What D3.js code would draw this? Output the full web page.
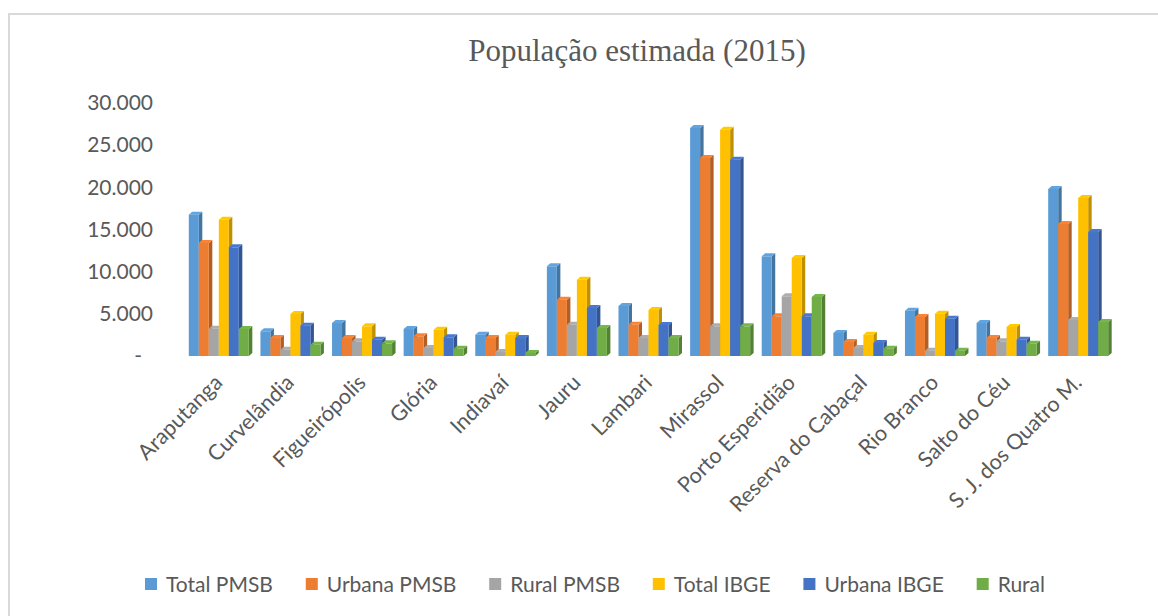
<!DOCTYPE html>
<html>
<head>
<meta charset="utf-8">
<script src="https://cdn.jsdelivr.net/npm/d3@7"></script>
<style>
  html, body { margin: 0; padding: 0; background: #fff; }
  svg { display: block; }
</style>
</head>
<body>
<svg id="chart" width="1158" height="616"></svg>
<script>
// Municipalities
const categories = ["Araputanga", "Curvelândia", "Figueirópolis", "Glória", "Indiavaí", "Jauru",
  "Lambari", "Mirassol", "Porto Esperidião", "Reserva do Cabaçal", "Rio Branco",
  "Salto do Céu", "S. J. dos Quatro M."];

// Series names (legend order)
const seriesNames = ["Total PMSB", "Urbana PMSB", "Rural PMSB", "Total IBGE", "Urbana IBGE", "Rural"];

// Population estimates, one array per series
const totalPMSB  = [16760, 2930, 3910, 3200, 2530, 10640, 5930, 27040, 11820, 2730, 5370, 3910, 19800];
const urbanaPMSB = [13400, 2130, 2130, 2340, 2130, 6680, 3710, 23480, 4710, 1660, 4630, 2130, 15650];
const ruralPMSB  = [3240, 750, 1740, 950, 470, 3710, 2130, 3520, 7080, 950, 630, 1740, 4270];
const totalIBGE  = [16170, 4980, 3520, 3120, 2530, 9050, 5460, 26840, 11620, 2530, 5020, 3440, 18740];
const urbanaIBGE = [12890, 3600, 1930, 2220, 2130, 5690, 3680, 23280, 4710, 1540, 4420, 1930, 14700];
const rural      = [3200, 1340, 1500, 870, 360, 3320, 2130, 3520, 7000, 870, 630, 1460, 4030];

// Y axis ticks
const yTicks = [0, 5000, 10000, 15000, 20000, 25000, 30000];

const seriesValues = [totalPMSB, urbanaPMSB, ruralPMSB, totalIBGE, urbanaIBGE, rural];
const colors = ["#5B9BD5", "#ED7D31", "#A5A5A5", "#FFC000", "#4472C4", "#70AD47"];

const svg = d3.select("#chart");
const textColor = "#595959";
const uiFont = "Lato, 'Open Sans', sans-serif";

// Outer chart frame
svg.append("rect")
  .attr("x", 9).attr("y", 14)
  .attr("width", 1300).attr("height", 800)
  .attr("fill", "#fff")
  .attr("stroke", "#d9d9d9").attr("stroke-width", 2);

// Title
svg.append("text")
  .attr("x", 637).attr("y", 61)
  .attr("text-anchor", "middle")
  .attr("font-family", "'Liberation Serif', 'Times New Roman', serif")
  .attr("font-size", 31)
  .attr("fill", textColor)
  .text("População estimada (2015)");

// Scales
const y = d3.scaleLinear().domain([0, 30000]).range([356, 103]);
const x0 = d3.scaleBand().domain(categories).range([183, 1114]).paddingInner(0);
const x1 = d3.scaleBand().domain(seriesNames).range([0, x0.bandwidth()]).paddingOuter(0.58);

// Y axis (no line, no tick marks)
const fmt = d => d === 0 ? "-" : d3.format(",")(d).replace(/,/g, ".");
const yAxis = svg.append("g")
  .attr("transform", "translate(153,0)")
  .call(d3.axisLeft(y).tickValues(yTicks).tickFormat(fmt).tickSize(0).tickPadding(0));
yAxis.select(".domain").remove();
yAxis.selectAll("text")
  .attr("font-family", uiFont)
  .attr("font-size", 21)
  .attr("fill", textColor)
  .attr("dx", d => d === 0 ? -11 : 0);

// 3D columns: front face, right side face and top face
const dx = 3.5, dy = 3;
const y0 = y(0);
const bars = svg.append("g");
categories.forEach((cat, ci) => {
  const g = bars.append("g");
  seriesNames.forEach((name, si) => {
    const v = seriesValues[si][ci];
    const xl = x0(cat) + x1(name);
    const w = x1.bandwidth();
    const yt = y(v);
    const base = d3.color(colors[si]);
    // side face
    g.append("polygon")
      .attr("points", [[xl + w, yt], [xl + w + dx, yt - dy], [xl + w + dx, y0 - dy], [xl + w, y0]].map(p => p.join(",")).join(" "))
      .attr("fill", base.darker(0.8));
    // top face
    g.append("polygon")
      .attr("points", [[xl, yt], [xl + dx, yt - dy], [xl + w + dx, yt - dy], [xl + w, yt]].map(p => p.join(",")).join(" "))
      .attr("fill", base.brighter(0.15));
    // front face
    g.append("rect")
      .attr("x", xl).attr("y", yt)
      .attr("width", w).attr("height", y0 - yt)
      .attr("fill", base);
  });
});

// Category labels, rotated -45°
svg.append("g")
  .selectAll("text")
  .data(categories)
  .join("text")
  .attr("transform", d => `translate(${x0(d) + x0.bandwidth() / 2 + 5},${384}) rotate(-45)`)
  .attr("text-anchor", "end")
  .attr("font-family", uiFont)
  .attr("font-size", 21.5)
  .attr("fill", textColor)
  .text(d => d);

// Legend spread between x=145 and x=1045
const legend = svg.append("g");
const sq = 12, gapText = 9, legLeft = 145, legRight = 1045;
const items = seriesNames.map((name, i) => {
  const it = legend.append("g");
  it.append("rect").attr("width", sq).attr("height", sq).attr("y", -sq / 2 - 1).attr("fill", colors[i]);
  const t = it.append("text")
    .attr("x", sq + gapText).attr("y", 0).attr("dy", "0.35em")
    .attr("font-family", uiFont).attr("font-size", 21).attr("fill", textColor)
    .text(name);
  return { it, w: sq + gapText + t.node().getComputedTextLength() };
});
const gapItem = (legRight - legLeft - d3.sum(items, d => d.w)) / (items.length - 1);
let cx = legLeft;
items.forEach(d => {
  d.it.attr("transform", `translate(${cx},585)`);
  cx += d.w + gapItem;
});
</script>
</body>
</html>
